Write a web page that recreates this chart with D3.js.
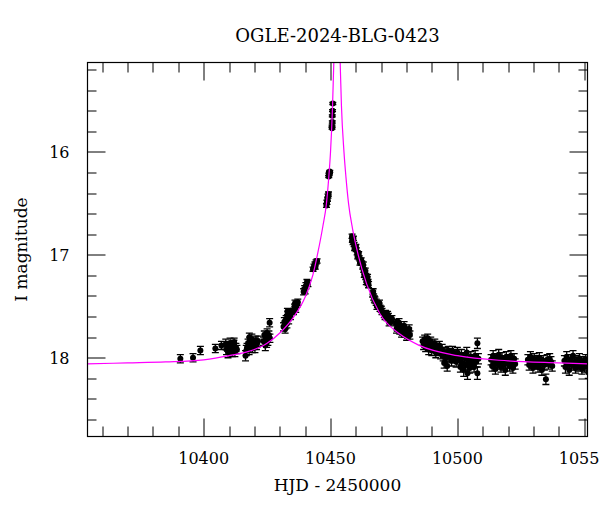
<!DOCTYPE html>
<html>
<head>
<meta charset="utf-8">
<script src="https://cdn.jsdelivr.net/npm/d3@7"></script>
<style>
  body { margin: 0; background: #fff; }
  text { font-family: "DejaVu Serif", serif; fill: #000; }
</style>
</head>
<body>
<div id="chart"></div>
<script>
const title = "OGLE-2024-BLG-0423";
const xLabel = "HJD - 2450000";
const yLabel = "I magnitude";

const xTickLabels = [10400, 10450, 10500, 10550];
const yTickLabels = [16, 17, 18];

// OGLE photometry: HJD - 2450000, I mag, error
const hjd = [
  10390.8, 10395.8, 10398.7, 10404.6, 10407.0,
  10408.7, 10409.0, 10409.3, 10409.6, 10410.0, 10410.4, 10410.8, 10411.1, 10411.5, 10411.9, 10412.3, 10412.7, 10413.1,
  10416.5, 10416.8, 10417.1, 10417.5, 10417.9, 10418.2, 10418.6, 10419.0, 10419.4, 10419.8, 10420.2, 10420.6, 10421.0, 10421.4,
  10423.6, 10423.9, 10424.3, 10424.6, 10425.0, 10425.3, 10425.7, 10426.0, 10426.1,
  10431.5, 10431.8, 10432.1, 10432.5, 10432.8, 10433.2, 10433.5, 10433.9, 10434.2,
  10435.4, 10435.8, 10436.3, 10436.7, 10437.1,
  10439.4, 10439.8, 10440.3, 10440.7, 10441.1,
  10443.1, 10443.5, 10443.9, 10444.3, 10444.7,
  10448.4, 10448.6, 10448.8, 10449.0, 10449.2,
  10449.3, 10449.4, 10449.5, 10449.6, 10449.7,
  10450.6, 10450.6, 10450.7, 10450.7, 10450.8, 10450.9,
  10458.5, 10458.7, 10458.9, 10459.3, 10459.7, 10460.1, 10460.5, 10460.9, 10461.3, 10461.8, 10462.3,
  10462.7, 10463.1, 10463.5, 10463.9, 10464.4, 10464.8,
  10466.6, 10467.0, 10467.5, 10468.0, 10468.5, 10469.0, 10469.5, 10470.0,
  10471.2, 10471.7, 10472.3, 10472.8, 10473.4, 10473.9,
  10475.8, 10476.3, 10476.8, 10477.3, 10477.8, 10478.3, 10478.8, 10479.3, 10479.8, 10480.3, 10480.8, 10481.3,
  10486.3, 10486.7, 10487.1, 10487.5, 10487.9, 10488.3, 10488.7, 10489.1, 10489.5, 10489.9, 10490.3, 10490.7, 10491.1, 10491.5, 10491.9, 10492.4, 10492.9, 10493.4,
  10494.0, 10494.4, 10494.8, 10495.2, 10495.6, 10496.0, 10496.4, 10496.8, 10497.3, 10497.7, 10498.1, 10498.6, 10499.0, 10499.5, 10500.0,
  10500.8, 10501.2, 10501.6, 10502.0, 10502.5, 10502.9, 10503.3, 10503.7, 10504.0, 10504.4, 10504.9, 10505.3, 10505.7, 10506.1, 10506.6, 10507.0, 10507.4, 10507.9, 10507.9, 10508.3,
  10513.3, 10513.7, 10514.1, 10514.6, 10515.0, 10515.4, 10515.9, 10516.3, 10516.7, 10517.2, 10517.6, 10518.0, 10518.5, 10518.9, 10519.3, 10519.8, 10520.2, 10520.6, 10521.1, 10521.5, 10521.9, 10522.4, 10522.8,
  10527.8, 10528.3, 10528.8, 10529.3, 10529.8, 10530.3, 10530.8, 10531.3, 10531.8, 10532.3, 10532.8, 10533.3, 10533.8, 10534.3, 10534.9, 10535.4, 10535.9, 10536.4, 10536.9, 10537.4,
  10542.2, 10542.6, 10543.1, 10543.6, 10544.1, 10544.6, 10545.1, 10545.6, 10546.1, 10546.6, 10547.1, 10547.6, 10548.1, 10548.6, 10549.1, 10549.6, 10550.1, 10550.6, 10551.1, 10551.6,
  10458.6, 10459.0, 10459.5, 10460.0, 10460.7, 10461.1, 10461.6, 10462.1, 10462.9, 10463.3, 10463.7, 10464.1, 10464.6, 10465.0,
  10466.8, 10467.3, 10468.3, 10469.3, 10470.3, 10471.5, 10472.5, 10473.1, 10474.2,
  10476.0, 10477.0, 10478.0, 10479.0, 10480.0, 10481.0,
  10409.8, 10411.3, 10412.0, 10418.0, 10419.2, 10420.8, 10424.8, 10432.3, 10433.0, 10436.0, 10440.0, 10444.0
];
const imag = [
  18.01, 18.00, 17.93, 17.91, 17.88,
  17.87, 17.92, 17.89, 17.95, 17.90, 17.86, 17.93, 17.88, 17.91, 17.87, 17.94, 17.90, 17.92,
  17.98, 17.93, 17.90, 17.86, 17.92, 17.84, 17.88, 17.82, 17.87, 17.85, 17.90, 17.83, 17.86, 17.84,
  17.84, 17.78, 17.88, 17.80, 17.76, 17.83, 17.78, 17.66, 17.81,
  17.70, 17.65, 17.72, 17.62, 17.67, 17.58, 17.63, 17.56, 17.60,
  17.55, 17.51, 17.53, 17.48, 17.46,
  17.36, 17.33, 17.30, 17.27, 17.28,
  17.14, 17.11, 17.09, 17.07, 17.06,
  16.52, 16.49, 16.46, 16.43, 16.41,
  16.24, 16.22, 16.21, 16.20, 16.19,
  15.77, 15.75, 15.71, 15.65, 15.60, 15.53,
  16.82, 16.85, 16.88, 16.90, 16.93, 16.95, 16.98, 17.00, 17.03, 17.06, 17.08,
  17.12, 17.15, 17.18, 17.21, 17.24, 17.27,
  17.38, 17.41, 17.44, 17.46, 17.48, 17.50, 17.52, 17.53,
  17.58, 17.57, 17.61, 17.60, 17.63, 17.65,
  17.66, 17.70, 17.68, 17.73, 17.70, 17.74, 17.72, 17.76, 17.74, 17.77, 17.75, 17.78,
  17.84, 17.88, 17.82, 17.90, 17.86, 17.81, 17.92, 17.87, 17.84, 17.93, 17.88, 17.90, 17.86, 17.95, 17.90, 17.93, 17.88, 17.96,
  17.92, 17.98, 18.05, 17.95, 18.00, 18.08, 17.93, 17.99, 17.96, 18.03, 17.94, 18.00, 17.97, 18.04, 17.95,
  18.02, 18.09, 17.97, 18.05, 18.12, 18.00, 18.07, 17.95, 18.15, 18.03, 18.10, 17.99, 18.06, 18.02, 18.09, 17.98, 18.04, 18.15, 17.86, 18.01,
  18.02, 18.08, 17.98, 18.05, 18.11, 18.01, 18.06, 17.97, 18.04, 18.09, 18.00, 18.07, 18.03, 18.12, 17.99, 18.05, 18.02, 18.08, 17.98, 18.04, 18.10, 18.01, 18.06,
  18.02, 18.07, 17.99, 18.05, 18.10, 18.01, 18.06, 18.03, 18.09, 18.00, 18.05, 18.12, 18.03, 18.07, 18.21, 18.02, 18.06, 18.01, 18.04, 18.08,
  18.03, 18.09, 17.99, 18.06, 18.12, 18.02, 18.07, 17.98, 18.05, 18.10, 18.03, 18.08, 18.01, 18.06, 18.11, 18.04, 18.09, 18.02, 18.07, 18.14,
  16.86, 16.84, 16.94, 16.92, 17.02, 16.99, 17.08, 17.05, 17.10, 17.19, 17.16, 17.26, 17.22, 17.29,
  17.36, 17.43, 17.50, 17.47, 17.55, 17.60, 17.58, 17.66, 17.62,
  17.72, 17.66, 17.76, 17.69, 17.79, 17.72,
  17.88, 17.95, 17.85, 17.80, 17.91, 17.88, 17.86, 17.68, 17.55, 17.47, 17.35, 17.12
];
const ierr = [
  0.04, 0.04, 0.04, 0.04, 0.04,
  0.05, 0.05, 0.04, 0.05, 0.04, 0.05, 0.04, 0.04, 0.05, 0.04, 0.05, 0.04, 0.04,
  0.05, 0.05, 0.04, 0.04, 0.05, 0.04, 0.04, 0.05, 0.04, 0.04, 0.05, 0.04, 0.04, 0.05,
  0.04, 0.04, 0.05, 0.04, 0.04, 0.05, 0.04, 0.04, 0.04,
  0.04, 0.04, 0.04, 0.03, 0.04, 0.03, 0.04, 0.03, 0.03,
  0.03, 0.03, 0.03, 0.03, 0.03,
  0.03, 0.03, 0.03, 0.03, 0.03,
  0.02, 0.02, 0.02, 0.02, 0.02,
  0.02, 0.02, 0.02, 0.02, 0.02,
  0.01, 0.01, 0.01, 0.01, 0.01,
  0.01, 0.01, 0.01, 0.01, 0.01, 0.01,
  0.02, 0.02, 0.02, 0.02, 0.02, 0.02, 0.02, 0.02, 0.02, 0.02, 0.02,
  0.02, 0.02, 0.03, 0.03, 0.03, 0.03,
  0.03, 0.03, 0.03, 0.03, 0.03, 0.03, 0.03, 0.03,
  0.03, 0.03, 0.03, 0.03, 0.03, 0.03,
  0.03, 0.04, 0.03, 0.04, 0.03, 0.04, 0.04, 0.04, 0.04, 0.04, 0.04, 0.04,
  0.04, 0.04, 0.04, 0.04, 0.04, 0.04, 0.05, 0.04, 0.04, 0.05, 0.04, 0.04, 0.04, 0.05, 0.04, 0.05, 0.04, 0.05,
  0.05, 0.05, 0.05, 0.05, 0.05, 0.05, 0.04, 0.05, 0.05, 0.05, 0.05, 0.05, 0.05, 0.05, 0.05,
  0.05, 0.05, 0.05, 0.05, 0.06, 0.05, 0.05, 0.05, 0.06, 0.05, 0.05, 0.05, 0.05, 0.05, 0.05, 0.05, 0.05, 0.06, 0.05, 0.05,
  0.05, 0.05, 0.05, 0.05, 0.05, 0.05, 0.05, 0.05, 0.05, 0.05, 0.05, 0.05, 0.05, 0.05, 0.05, 0.05, 0.05, 0.05, 0.05, 0.05, 0.05, 0.05, 0.05,
  0.05, 0.05, 0.05, 0.05, 0.05, 0.05, 0.05, 0.05, 0.05, 0.05, 0.05, 0.05, 0.05, 0.05, 0.05, 0.05, 0.05, 0.05, 0.05, 0.05,
  0.05, 0.06, 0.05, 0.05, 0.05, 0.05, 0.05, 0.05, 0.05, 0.05, 0.05, 0.05, 0.05, 0.05, 0.05, 0.05, 0.05, 0.05, 0.05, 0.06,
  0.02, 0.02, 0.02, 0.02, 0.02, 0.02, 0.02, 0.02, 0.03, 0.03, 0.03, 0.03, 0.03, 0.03,
  0.03, 0.03, 0.03, 0.03, 0.03, 0.03, 0.03, 0.03, 0.03,
  0.04, 0.04, 0.04, 0.04, 0.04, 0.04,
  0.04, 0.04, 0.04, 0.04, 0.04, 0.04, 0.04, 0.04, 0.03, 0.03, 0.03, 0.02
];

// model light curve
const modelT = [10354, 10370, 10385, 10400, 10410, 10420, 10425, 10430, 10435, 10440, 10443, 10445, 10447,
  10448.4, 10449.3, 10450.0, 10450.8, 10451.3, 10452.6, 10453.8, 10454.3, 10455.3, 10456.1, 10457.1, 10458.7,
  10460.9, 10464.2, 10469.4, 10477.3, 10485, 10500, 10520, 10540, 10552];
const modelMag = [18.06, 18.05, 18.04, 18.02, 17.98, 17.92, 17.86, 17.76, 17.62, 17.41, 17.20, 16.98, 16.72,
  16.50, 16.25, 16.00, 15.55, 15.13, 14.60, 15.13, 15.55, 16.00, 16.25, 16.50, 16.75,
  17.00, 17.28, 17.57, 17.77, 17.88, 17.98, 18.03, 18.05, 18.06];

const width = 600, height = 512;
const margin = { top: 62.5, right: 12.5, bottom: 75.5, left: 87.5 };
const iw = width - margin.left - margin.right;
const ih = height - margin.top - margin.bottom;

const svg = d3.select("#chart").append("svg")
  .attr("width", width)
  .attr("height", height);

const x = d3.scaleLinear().domain([10354.2, 10551.3]).range([0, iw]);
const y = d3.scaleLinear().domain([15.132, 18.765]).range([0, ih]);

const g = svg.append("g").attr("transform", `translate(${margin.left},${margin.top})`);

svg.append("defs").append("clipPath").attr("id", "plot-clip")
  .append("rect").attr("width", iw).attr("height", ih);

// ticks on all four sides, pointing in
const xMinor = d3.range(10360, 10551, 10);
const yMinor = d3.range(15.2, 18.7, 0.2).map(v => +v.toFixed(1));
const isMajorX = v => v % 50 === 0;
const isMajorY = v => Math.abs(v - Math.round(v)) < 1e-6;
const tickG = g.append("g").attr("stroke", "#000").attr("stroke-width", 1);

xMinor.forEach(v => {
  const len = isMajorX(v) ? 18 : 10;
  const px = Math.round(x(v)) + 0.5;
  tickG.append("line").attr("x1", px).attr("x2", px).attr("y1", ih).attr("y2", ih - len);
  tickG.append("line").attr("x1", px).attr("x2", px).attr("y1", 0).attr("y2", len);
});
yMinor.forEach(v => {
  const len = isMajorY(v) ? 18 : 9;
  const py = Math.round(y(v)) + 0.5;
  tickG.append("line").attr("y1", py).attr("y2", py).attr("x1", 0).attr("x2", len);
  tickG.append("line").attr("y1", py).attr("y2", py).attr("x1", iw).attr("x2", iw - len);
});

// tick labels
g.selectAll(".xlab").data(xTickLabels).enter().append("text")
  .attr("x", d => x(d))
  .attr("y", ih + 27)
  .attr("text-anchor", "middle")
  .attr("font-size", 16)
  .text(d => d);

g.selectAll(".ylab").data(yTickLabels).enter().append("text")
  .attr("x", -18)
  .attr("y", d => y(d))
  .attr("dy", "0.36em")
  .attr("text-anchor", "end")
  .attr("font-size", 16)
  .text(d => d);

// data: error bars + dots
const points = hjd.map((t, i) => ({ t: t, m: imag[i], e: ierr[i] }));
const dataG = g.append("g").attr("clip-path", "url(#plot-clip)");

const bars = dataG.append("g").attr("stroke", "#000").attr("stroke-width", 1.3);
points.forEach(d => {
  const px = x(d.t), y1 = y(d.m - d.e), y2 = y(d.m + d.e);
  bars.append("line").attr("x1", px).attr("x2", px).attr("y1", y1).attr("y2", y2);
  bars.append("line").attr("x1", px - 3.5).attr("x2", px + 3.5).attr("y1", y1).attr("y2", y1);
  bars.append("line").attr("x1", px - 3.5).attr("x2", px + 3.5).attr("y1", y2).attr("y2", y2);
});

dataG.selectAll("circle").data(points).enter().append("circle")
  .attr("cx", d => x(d.t))
  .attr("cy", d => y(d.m))
  .attr("r", 3)
  .attr("fill", "#000");

// model curve on top
const model = modelT.map((t, i) => [t, modelMag[i]]);
g.append("path")
  .attr("clip-path", "url(#plot-clip)")
  .datum(model)
  .attr("d", d3.line().x(d => x(d[0])).y(d => y(d[1])).curve(d3.curveMonotoneX))
  .attr("fill", "none")
  .attr("stroke", "#ff00ff")
  .attr("stroke-width", 1.2);

// frame
g.append("rect")
  .attr("width", iw).attr("height", ih)
  .attr("fill", "none").attr("stroke", "#000").attr("stroke-width", 1.2);

// titles
svg.append("text")
  .attr("x", margin.left + iw / 2)
  .attr("y", 42)
  .attr("text-anchor", "middle")
  .attr("font-size", 18)
  .text(title);

svg.append("text")
  .attr("x", margin.left + iw / 2)
  .attr("y", 491)
  .attr("text-anchor", "middle")
  .attr("font-size", 17)
  .text(xLabel);

svg.append("text")
  .attr("transform", `translate(27,${margin.top + ih / 2}) rotate(-90)`)
  .attr("text-anchor", "middle")
  .attr("font-size", 17)
  .text(yLabel);
</script>
</body>
</html>
